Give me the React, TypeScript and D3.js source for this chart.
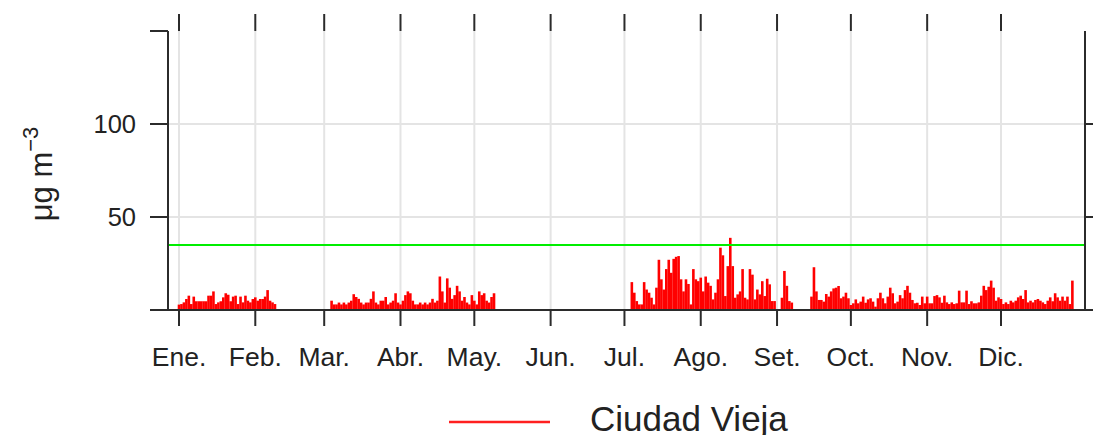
import React from "react";
import * as d3 from "d3";

// Month labels and day-of-year of the first of each month
const monthLabels = ["Ene.", "Feb.", "Mar.", "Abr.", "May.", "Jun.", "Jul.", "Ago.", "Set.", "Oct.", "Nov.", "Dic."];
const monthStarts = [0, 31, 59, 90, 120, 151, 181, 212, 243, 273, 304, 334];
const yTicks = [0, 50, 100, 150];
const yLabels = [50, 100];
const limitValue = 35;
const seriesName = "Ciudad Vieja";

// Daily PM2.5 (µg m-3) segments: start day-of-year + values
const janStart = 0;
const janValues = [2.9, 3.2, 4.1, 5.9, 7.7, 3.2, 7.2, 4.7, 4.7, 4.7, 4.7, 4.7, 7.7, 7.7, 10, 3.2, 4.1, 4.7, 6.8, 9,
  8.2, 4.7, 7.2, 7.7, 3.2, 7.2, 4.1, 7.7, 5, 4.1, 5.9, 6.8, 5, 5.9, 5.9, 7.2, 10.7, 5, 4.1, 3.2];

const marStart = 62;
const marValues = [5, 3, 3, 4, 3, 4, 3, 4, 5, 8.5, 7, 6, 4, 3, 4, 4, 6, 10, 4, 3,
  5, 5, 7, 3, 4, 5, 9, 4, 3, 5, 8, 10, 9, 5, 3, 3, 4, 3, 4, 3,
  4, 6, 4, 5, 18, 10, 4, 17, 12, 6, 8, 13, 10, 5, 7, 4, 3, 8, 5, 3,
  10, 8, 9, 5, 4, 7, 9];

const julStart = 184;
const julValues: (number | null)[] = [15, 9.3, 4.8, 3, 3, 15, 11, 9.3, 6.6, 3,
  12, 27, 16.5, 11, 22, 27, 20, 27.5, 28.6, 29,
  16.5, 10, 16.5, 14, 3, 22, 16.5, 15.5, 17.4, 10,
  18, 14.7, 13, 5.7, 9.3, 16.5, 33.5, 29.4, 7.5, 23.6,
  38.8, 23.6, 6.6, 8.4, 10, 22, 6.6, 5.7, 22, 19,
  5.7, 11, 8.4, 15.5, 7.5, 16.8, 13.8, 4.8, 4.8, null,
  null, 6.6, 21, 13, 4.8, 4];

const sepStart = 257;
const sepValues = [7.2, 23, 10, 5.4, 5.4, 4.5, 8.6, 7.2, 10, 11.6, 12, 12.9, 6.3, 7.2, 9.3, 6.3, 2.7, 3.6, 5.7, 3.6,
  4.5, 7.2, 3.9, 5.7, 6.3, 4.5, 1.8, 6.3, 9.3, 6.3, 3.6, 7.2, 12, 9, 3.6, 4.5, 8, 6.3, 10.7, 13,
  9.3, 5.4, 3.6, 3.9, 2.7, 7.2, 3.6, 7.2, 3.6, 3.6, 7.5, 8, 6.8, 3.9,
  7.7, 4.1, 3.2, 4.1, 3.2, 3.6, 10.4, 4.1, 4.1, 10.4, 3.2, 4.7, 3.6, 3.6, 4.1, 7.7, 13, 10.7, 12.5, 15.8,
  12, 5, 6.8, 5.9, 3.2, 4.1, 3.2, 5, 4.1, 5, 6.8, 7.7, 5.9, 10.7, 4.1, 5, 4.1, 5.4, 5.9, 5,
  4.1, 3.2, 5, 6.8, 4.7, 9, 6.8, 5, 7.2, 5, 7.2, 3.2, 15.8];

const segments = [
  { start: janStart, values: janValues },
  { start: marStart, values: marValues },
  { start: julStart, values: julValues },
  { start: sepStart, values: sepValues },
];

export default function App() {
  const W = 1093, H = 435;
  const left = 168, right = 1085, top = 31, bottom = 310;
  const x = d3.scaleLinear().domain([0, 334]).range([179, 1001]);
  const y = d3.scaleLinear().domain([0, 150]).range([bottom, top]);
  const font = "'Liberation Sans', Arial, sans-serif";
  const axisColor = "#2b2b2b";

  const bars: { d: number; v: number }[] = [];
  segments.forEach((s) => s.values.forEach((v, i) => {
    if (v != null) bars.push({ d: s.start + i, v: v as number });
  }));

  return (
    <svg width={W} height={H} style={{ position: "absolute", left: 0, top: 0 }}>
      <rect width={W} height={H} fill="#fff" />
      {/* grid */}
      {monthStarts.map((m) => (
        <line key={"gx" + m} x1={x(m)} x2={x(m)} y1={top} y2={bottom} stroke="#e4e4e4" strokeWidth={2} />
      ))}
      {yLabels.map((v) => (
        <line key={"gy" + v} x1={left} x2={right} y1={y(v)} y2={y(v)} stroke="#e4e4e4" strokeWidth={2} />
      ))}
      {/* bars */}
      {bars.map((b) => (
        <line key={"b" + b.d} x1={x(b.d)} x2={x(b.d)} y1={y(0)} y2={y(b.v)} stroke="#ff0000" strokeWidth={2.6} />
      ))}
      {/* limit line */}
      <line x1={left} x2={right} y1={y(limitValue)} y2={y(limitValue)} stroke="#00ee00" strokeWidth={2} />
      {/* axes */}
      <line x1={left} x2={left} y1={top} y2={bottom} stroke={axisColor} strokeWidth={2} />
      <line x1={right} x2={right} y1={top} y2={bottom} stroke={axisColor} strokeWidth={2} />
      <line x1={left} x2={right} y1={bottom} y2={bottom} stroke={axisColor} strokeWidth={2} />
      {yTicks.map((v) => (
        <g key={"yt" + v}>
          <line x1={150} x2={left} y1={y(v)} y2={y(v)} stroke={axisColor} strokeWidth={2} />
          {v > 0 && v < 150 && (
            <line x1={right} x2={W} y1={y(v)} y2={y(v)} stroke={axisColor} strokeWidth={2} />
          )}
        </g>
      ))}
      <line x1={right} x2={W} y1={bottom} y2={bottom} stroke={axisColor} strokeWidth={2} />
      {yLabels.map((v) => (
        <text key={"yl" + v} x={136} y={y(v)} dy="0.36em" textAnchor="end" fontFamily={font} fontSize={25.5} fill="#222">{v}</text>
      ))}
      {monthStarts.map((m, i) => (
        <g key={"xt" + m}>
          <line x1={x(m)} x2={x(m)} y1={bottom} y2={326} stroke={axisColor} strokeWidth={2} />
          <line x1={x(m)} x2={x(m)} y1={14} y2={top} stroke={axisColor} strokeWidth={2} />
          <text x={x(m)} y={366} textAnchor="middle" fontFamily={font} fontSize={26.5} fill="#222">{monthLabels[i]}</text>
        </g>
      ))}
      {/* y title */}
      <text transform="translate(52,174) rotate(-90)" textAnchor="middle" fontFamily={font} fontSize={31} fill="#222">
        μg m<tspan dy={-14} fontSize={22}>−3</tspan>
      </text>
      {/* legend */}
      <line x1={449} x2={550} y1={422} y2={422} stroke="#ff2020" strokeWidth={2.5} />
      <text x={590} y={431} fontFamily={font} fontSize={35} fill="#222">{seriesName}</text>
    </svg>
  );
}
